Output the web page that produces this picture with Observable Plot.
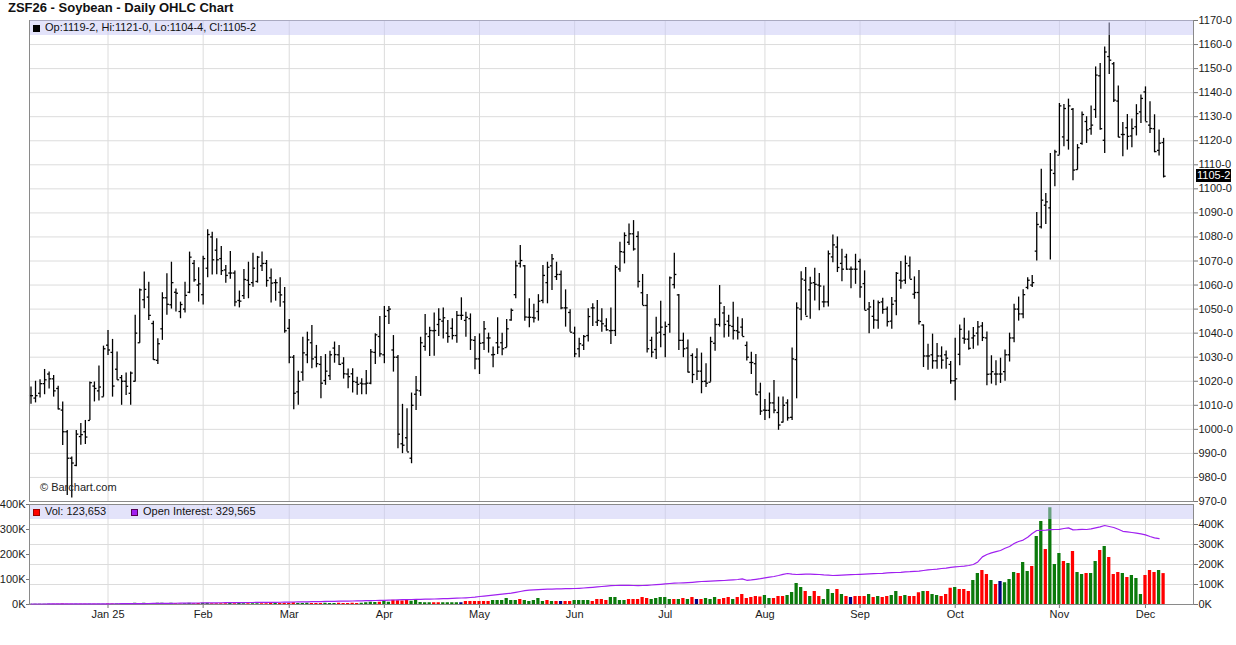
<!DOCTYPE html>
<html>
<head>
<meta charset="utf-8">
<script src="https://cdn.jsdelivr.net/npm/d3@7"></script>
<script src="https://cdn.jsdelivr.net/npm/@observablehq/plot@0.6"></script>
<style>
html,body{margin:0;padding:0;background:#fff;overflow:hidden}
#chart{position:relative;width:1236px;height:645px;font-family:"Liberation Sans",Arial,sans-serif;color:#111}
#chart svg{position:absolute;left:0;top:0;overflow:visible}
.t{position:absolute;white-space:nowrap;font-size:11px;line-height:15px}
.band{position:absolute;left:30px;width:1163px;height:15px;background:rgba(200,200,245,0.5)}
.sq{display:inline-block;width:7px;height:7px;margin-right:5px;vertical-align:-0.5px;box-sizing:border-box}
</style>
</head>
<body>
<div id="chart"></div>
<script>
// ---------- DATA ----------
const symbol = "ZSF26 - Soybean - Daily OHLC Chart";
const startDate = "2024-12-06", endDate = "2025-12-05";
const holidays = ["2024-12-25","2025-01-01","2025-01-20","2025-02-17","2025-04-18","2025-05-26","2025-06-19","2025-07-04","2025-09-01","2025-11-27"];
const monthLabels = ["Jan 25","Feb","Mar","Apr","May","Jun","Jul","Aug","Sep","Oct","Nov","Dec"];
const priceTicks = [970,980,990,1000,1010,1020,1030,1040,1050,1060,1070,1080,1090,1100,1110,1120,1130,1140,1150,1160,1170];
const volTicks = [0,100,200,300,400];   // thousands (left axis, volume)
const oiTicks = [0,100,200,300,400];    // thousands (right axis, open interest)

const opens = [1014,1013,1015,1019,1023,1021,1017,1008,999,988,
985,997,999,1003.7,1018,1016,1013.5,1035,1032,1025,
1021.5,1020,1015,1020,1036,1053.9,1055,1044,1028.7,1041.8,
1054.7,1051.8,1057,1049,1050,1057,1069,1060,1056,1067,
1080,1074.5,1071,1066.3,1065,1065,1053.6,1055.6,1062,1061,
1061.5,1068,1069,1063,1061,1057,1053,1042,1030,1015.6,
1023.8,1031,1036,1030,1027,1020.3,1022.3,1033.8,1031,1027.5,
1023,1023.1,1019.6,1019.2,1018.9,1019.2,1032,1038.6,1031,1049.4,
1033,1030,994,996.5,988,1014.6,1016,1034.5,1038.6,1041,
1043.6,1045,1040,1042,1039,1047.4,1045.3,1046,1037,1029.3,
1036,1038,1031,1036,1036,1034,1045.5,1056,1069,1068,
1046.6,1046.5,1049,1053.6,1061,1068,1063.5,1064.4,1050.5,1048.6,
1040,1033.5,1035,1039,1050.5,1044.6,1045,1043,1041,1041.1,
1066.7,1073.7,1077.8,1081.3,1080.2,1056.8,1051.5,1037,1033.2,1040.4,
1039.4,1043.6,1060.2,1055.9,1037,1033.8,1030.7,1030,1024.2,1020,
1019.6,1035.8,1043.6,1048.4,1045,1042.8,1041,1042.5,1034.9,1027.8,
1027.3,1015.5,1008,1007.9,1011,1007,1003,1011,1005,1029,
1050,1062,1058,1061,1060,1053,1053,1071.7,1075.8,1069,
1071.7,1066.6,1066.6,1069.8,1060.6,1050,1047,1045.4,1053,1050,
1045,1053.4,1062,1062,1068,1056.2,1056.9,1043.4,1030.5,1031,
1028.5,1030.5,1031,1027,1020.2,1031.2,1037.9,1037.5,1038,1040,
1043,1038,1023,1023,1023,1024,1031,1038,1050,1048,
1059,1060,1074.1,1084.2,1093.2,1092.1,1106.4,1114,1121.6,1120.2,
1133.1,1108,1118.9,1128,1125,1133,1147,1120.2,1155,1152,
1136.5,1122.6,1125.4,1122,1125.8,1132,1140.3,1126.5,1125,1116,
1119.25];
const highs = [1017.6,1020,1020.6,1024.9,1023.8,1022.4,1017.9,1011.4,999.5,988.5,
999.5,1002.4,1003.7,1019.7,1019.7,1026.3,1034.6,1041.1,1037.4,1032.2,
1022.4,1023.4,1023.8,1047.4,1058.4,1065.4,1061.2,1045,1037.7,1056.8,
1064.7,1069.5,1058.4,1052.9,1061.2,1073.7,1070.2,1067.2,1072,1083,
1082,1079.2,1076,1068.1,1073.9,1065.8,1057.5,1066.5,1069.5,1073.2,
1071.9,1073.7,1070.2,1066.7,1062.2,1063,1059,1045.7,1030.7,1024.2,
1038.3,1040.4,1043.2,1034.9,1030.3,1031.1,1032.5,1036.3,1034.9,1029.8,
1025.1,1025.2,1021.7,1021,1024.5,1033.2,1039.7,1046.9,1051.1,1051.1,
1039,1030.7,1010.4,1008.6,1015.1,1022,1038.3,1047.8,1042.5,1048.4,
1050.1,1050.5,1045.3,1046,1049,1054.7,1048.7,1048,1038.6,1039.7,
1044.8,1040,1034.2,1046.4,1040,1045.7,1050,1070,1076.4,1068.1,
1054.3,1052,1056,1068.1,1069.5,1072.7,1069.5,1065.8,1058,1049.7,
1042.5,1037.9,1039,1050.1,1052.2,1053.6,1050.1,1046,1050.5,1068.1,
1077.8,1081.7,1085.4,1086.8,1082.2,1064.4,1056.1,1038.3,1046.6,1053.3,
1044.6,1063.3,1073.2,1056.1,1040,1037.2,1031.4,1033.5,1031.7,1027.3,
1038.3,1046,1059.8,1051.1,1047.4,1052.9,1046.6,1046,1036.3,1032.1,
1031.1,1019.2,1012.4,1015.1,1020.3,1013.4,1013.4,1012.3,1033.8,1052.6,
1065.5,1067.3,1063.2,1067,1064.8,1059.6,1074.2,1080.8,1080,1074.9,
1072.8,1067.5,1072.8,1070.7,1065.9,1052.7,1053.7,1053.4,1054.5,1050.9,
1054.8,1065.2,1069.8,1072.1,1071.7,1063.4,1066.1,1043.4,1035.4,1039.6,
1035.7,1034.3,1032.6,1028.2,1037.9,1043.4,1046.2,1040.9,1042.3,1044.8,
1044.4,1040.5,1030.6,1028.5,1029.6,1033,1040,1052,1055,1058,
1063,1064,1090.2,1108.2,1098.1,1114.7,1116.1,1135.5,1135.1,1137.3,
1133.4,1118.4,1132,1130,1134.5,1150.7,1152.1,1159,1169,1152.5,
1142.8,1127.6,1130.9,1129,1135,1139,1142.4,1136.2,1130.8,1124.5,
1121];
const lows = [1010.4,1011,1013,1014.4,1016.8,1013.4,1008,993.3,972.5,971.5,
984.5,993.4,993.7,1003.7,1011.4,1011.8,1013.4,1030.7,1013.4,1020.4,
1010,1014.1,1010,1019.7,1035.8,1050.1,1045.3,1028.7,1027,1037,
1047.4,1050,1048.8,1046,1048.4,1056.4,1061.2,1052.9,1051.7,1063,
1064.2,1064.3,1064,1060.8,1062.4,1051,1050.5,1054,1054.3,1059.1,
1060.8,1065.6,1059.1,1052.5,1053.3,1050.8,1040,1027.3,1008.1,1010,
1020,1027.3,1025.2,1025.6,1012.7,1018.3,1020.3,1027.5,1026.6,1020.9,
1016.9,1015.1,1014.2,1014.4,1014.4,1018.5,1027,1030,1027.3,1043.6,
1023.8,991.9,989.9,990.6,985.7,1007.8,1013.7,1032.5,1030.3,1030.4,
1038.6,1037.6,1035.8,1037.2,1035.8,1045.3,1038.3,1032.8,1024.8,1022.8,
1032.8,1031.7,1025.6,1031.1,1030.6,1033.9,1045,1054.3,1067.1,1045,
1042.2,1044.2,1045,1052.2,1052.2,1057.7,1061.9,1049.7,1042.5,1040.4,
1029.8,1029.8,1032.8,1036.3,1042.8,1042.8,1040.4,1040.8,1035.3,1038.6,
1065.3,1068.8,1076.4,1074.1,1058.8,1051.5,1031.7,1029.8,1029,1033.9,
1029.8,1040,1058.4,1032.8,1029.8,1023.4,1019,1020.3,1014.8,1017.4,
1019.6,1032.5,1042.5,1038,1038.3,1037.2,1037.2,1038.6,1028.4,1022.8,
1014.2,1005.8,1003.7,1004.4,1006.5,999.6,1002.6,1003.4,1003.7,1012.7,
1045.2,1047.2,1045.8,1053.4,1049.3,1050.6,1050.9,1069.3,1065.2,1061.4,
1066.1,1058.5,1060.3,1054.5,1049.5,1039.8,1041.6,1041.6,1047.9,1042.6,
1041.6,1047.2,1058.3,1060.3,1062.4,1054.1,1043.4,1025.7,1024.6,1025,
1025,1025,1025,1018.8,1011.9,1026.4,1035.4,1032.9,1033.3,1034.7,
1036.5,1018.1,1018.8,1018.1,1019.1,1020,1028,1036,1045,1046,
1058,1059,1070,1083.3,1085.2,1070.4,1100.9,1114,1117.5,1116.1,
1103.4,1107.8,1118.1,1118.9,1122.3,1129.3,1124.4,1114.7,1147.5,1135.9,
1121.2,1113.3,1116.1,1117.1,1122,1127.2,1127.9,1123,1115,1113.7,
1104.5];
const closes = [1014,1014,1019,1020.6,1021,1016,1008.5,999,988,986,
998,997.8,996.8,1019.4,1017,1017.6,1033.5,1033,1018,1020.6,
1020,1017.9,1023.4,1040,1058,1058.2,1047.4,1029,1035.6,1054.7,
1052,1061,1056.6,1051.9,1055.7,1071.6,1062.2,1060.5,1071,1081,
1070.5,1070.5,1066,1064,1065,1053,1053.3,1062.3,1060.2,1067,
1071.6,1069,1061.9,1060.8,1061,1055.9,1041,1030,1015,1020,
1031.8,1037.2,1029.3,1027.3,1019.2,1024.2,1031,1031.1,1027,1023.1,
1021.9,1019.9,1018.7,1018.9,1019.2,1032.2,1039.3,1031.4,1047,1050,
1030,998,993.4,990.6,1010,1016.3,1036,1039.7,1041.1,1041.1,
1045.7,1046.4,1038.6,1039,1047.4,1047.4,1046.6,1037.2,1029.3,1035.8,
1041.8,1038,1031.1,1034.2,1033.5,1041.8,1049.5,1068,1070.2,1046.7,
1046.6,1046.3,1053.3,1064,1067.4,1070.9,1064.4,1050.5,1050.5,1040.4,
1031.4,1035.6,1038.6,1046.9,1050.5,1045.3,1043.9,1041.4,1041.1,1067.4,
1073.9,1080.6,1081.3,1075,1061.5,1051.5,1033.5,1032.1,1040,1042.5,
1042.8,1063,1064.4,1037,1033.5,1023.8,1022.8,1024.2,1019.9,1019.2,
1036.5,1043.6,1052.5,1043.6,1043.2,1041.1,1040.4,1038.6,1030,1027.8,
1014.4,1007.6,1007.9,1011,1008,1001.8,1010,1004.8,1029.3,1050.5,
1062.5,1047,1060.8,1060.3,1059.6,1053,1073,1076.7,1067.3,1066.6,
1066.6,1066.6,1066.6,1059.2,1049.5,1050.9,1045.5,1052.7,1049.9,1044.8,
1052,1064.9,1061.7,1069,1062.4,1056.9,1044.8,1030.5,1030.5,1028.5,
1030.5,1028.8,1029.6,1020.2,1021,1041.6,1037.5,1033.7,1038.9,1042.6,
1038.2,1022.9,1024,1023,1023,1031,1038,1050,1048,1056,
1062,1061,1085.2,1095.3,1094.6,1107.8,1115.4,1134.5,1133.4,1134.5,
1107.8,1117.1,1130.9,1124.5,1126.5,1147.3,1125,1156.9,1153.5,1136.9,
1121.5,1122.6,1121.8,1125.1,1131.3,1137.6,1127.9,1125.1,1115.5,1119,
1105.25];
// volume, thousands of contracts
const volumeK = [1,1,1,1,1,1,1,2,1,1,1,1,1,1,1,1,1,
2,2,2,2,2,3,5,4,5,4,3,5,5,4,5,3,2,3,5,3,4,
5,5,3,3,3,3,5,3,5,3,3,3,3,3,3,4,4,4,4,
4,7,4,4,5,4,4,4,5,4,4,5,4,4,5,4,5,7,9,8,9,
12,9,17,15,14,16,
13,16,8,7,7,7,7,7,7,7,7,7,12,12,12,12,12,12,16,16,
16,24,16,16,20,16,12,16,24,12,16,12,12,12,12,12,16,16,16,16,
12,20,20,16,28,28,16,16,20,20,20,28,24,20,24,28,28,20,20,20,
24,20,28,20,20,24,20,28,20,24,28,20,28,40,24,28,32,30,36,24,
24,32,32,36,48,84,68,52,32,52,32,20,60,
44,60,40,32,28,32,32,32,40,28,32,28,32,36,52,32,36,32,32,47,
52,52,40,36,32,40,65,68,60,60,52,96,124,136,120,96,80,92,87,100,
128,124,168,132,152,272,332,220,387,160,204,172,164,212,128,120,124,124,172,216,
232,188,120,128,124,108,116,104,40,116,136,128,136,123.653];
// u = up, d = down, n = unchanged (colour of the volume bar)
const volumeDir = ("uuuuuddddd"+"udduduuddu"+"dduuuudduu"+"dudduudduu"+"dddduduudu"+
"uddduddddu"+"uuddduuudd"+"ddduuuuduu"+"dddduuuuud"+"duuuundddd"+
"dduuuuuudu"+"uuuududndd"+"uuuudddduu"+"uuddddduuu"+"uudududndu"+
"uudddudddd"+"dduuddduuu"+"ududduuudu"+"dndddududd"+"uududddudu"+
"uddduddduu"+"ddudnuuudu"+"uduuduuudu"+"duuduududd"+"duduuudddu"+"d").split("");
// open interest, thousands of contracts
const openInterestK = [2.5,2.5,2.6,2.6,2.7,2.7,2.8,2.8,2.9,3.0,3.0,3.1,3.2,3.2,3.3,3.4,3.5,
3.6,3.7,3.8,3.9,4.0,4.2,4.4,4.6,4.8,5.0,5.2,5.4,5.6,5.8,6.0,6.2,6.5,6.8,7.0,7.3,7.6,
7.9,8.1,8.3,8.5,8.7,8.9,9.1,9.3,9.5,9.7,9.9,10.1,10.3,10.5,10.7,10.9,11.1,11.3,11.6,
12,12.4,12.8,13.2,13.6,14,14.4,14.8,15.2,15.6,16,16.4,16.8,17.2,17.6,18,18.5,19,19.5,20,20.5,
21,21.8,22.6,23.4,24,24.5,25,25.5,26,26.5,27,27.6,28.2,29,29.8,30.6,31.5,32.5,33.5,35,37,
40,42,44,46.5,49,51.5,54,57,61,65,69,72,73.5,74.5,75.5,76.5,77.2,77.8,78.4,79,79.5,
80,81,82.5,84,86,88,90,92,94,95,95.5,95.8,95.5,95,94.5,95,96,97.5,99,101,
103,105,106.5,107.5,108.5,109.5,111,113,115,116,117,118,119,120,121.5,123,125,128,121,123,126,129,
133,137,140,145,151,155,152,150,151,152,152,151,150,148,147,145,146,147,148,149,150,
151,152,153,154,155,156,158,159,160,161,163,164,166,167,170,173,175,177,180,182,186,
188,190,192,195,200,213,238,250,258,264,270,281,290,305,315,322,336,355,370,371,372,374,375,
376,380,383,373,374,376,375,378,383,388,395,390,385,376,366,363,360,357,353,
348,340,333,329.565,null];

// ---------- BUILD ----------
function tradingDays(start, end, hol) {
  const h = new Set(hol), out = [];
  const e = new Date(end + "T00:00:00Z");
  for (let d = new Date(start + "T00:00:00Z"); d <= e; d.setUTCDate(d.getUTCDate() + 1)) {
    const w = d.getUTCDay(), s = d.toISOString().slice(0, 10);
    if (w !== 0 && w !== 6 && !h.has(s)) out.push(new Date(d));
  }
  return out;
}
const dates = tradingDays(startDate, endDate, holidays);
const dirColor = {u: "#0b7a0b", d: "#ff0000", n: "#000080"};
const bars = opens.map((o, i) => ({
  i, date: dates[i], open: o, high: highs[i], low: lows[i], close: closes[i],
  vol: volumeK[i], oi: openInterestK[i], col: dirColor[volumeDir[i]] || "#0b7a0b"
}));
const monthStarts = [];
for (let i = 1; i < dates.length; i++) if (dates[i].getUTCMonth() !== dates[i - 1].getUTCMonth()) monthStarts.push(i);
const monthLabelOf = new Map(monthStarts.map((m, k) => [m, monthLabels[k]]));

const fmtPrice = v => { const w = Math.floor(v); return `${w}-${Math.round((v - w) * 8)}`; };
const W = 1236, xDomain = [-0.33, 256.6];
const FONT = "Liberation Sans, Arial, sans-serif";
const baseStyle = {fontFamily: FONT, fontSize: "11px", color: "#1a1a1a", background: "transparent", overflow: "visible"};
const grid = "#dcdcdc";

const pricePlot = Plot.plot({
  width: W, height: 502, marginLeft: 29, marginRight: 43, marginTop: 20, marginBottom: 1,
  style: baseStyle,
  x: {domain: xDomain, axis: null},
  y: {domain: [970, 1170], axis: null},
  marks: [
    Plot.ruleY(priceTicks, {stroke: grid}),
    Plot.ruleX(monthStarts, {stroke: grid}),
    Plot.ruleX(bars, {x: "i", y1: "low", y2: "high", stroke: "#000", strokeWidth: 1.3}),
    Plot.link(bars, {x1: d => d.i - 0.45, x2: "i", y1: "open", y2: "open", stroke: "#000", strokeWidth: 1.3}),
    Plot.link(bars, {x1: "i", x2: d => d.i + 0.45, y1: "close", y2: "close", stroke: "#000", strokeWidth: 1.3}),
    Plot.axisY({anchor: "right", ticks: priceTicks, tickFormat: v => `${v}-0`, tickSize: 4, tickPadding: 1, label: null, stroke: "#777"}),
    Plot.frame({stroke: "#8a8a8a"})
  ]
});

const common = {width: W, height: 645, marginLeft: 29, marginRight: 43, marginTop: 504, marginBottom: 41,
  style: baseStyle, x: {domain: xDomain, axis: null}};

const oiGridPlot = Plot.plot({
  ...common,
  y: {domain: [0, 500], axis: null},
  marks: [
    Plot.ruleY(oiTicks.slice(1), {stroke: grid}),
    Plot.ruleX(monthStarts, {stroke: grid}),
    Plot.axisY({anchor: "right", ticks: oiTicks, tickFormat: v => `${v}K`, tickSize: 4, tickPadding: 1, label: null, stroke: "#777"})
  ]
});

const volPlot = Plot.plot({
  ...common,
  y: {domain: [0, 400], axis: null},
  color: {type: "identity"},
  marks: [
    Plot.rect(bars, {x1: d => d.i - 0.36, x2: d => d.i + 0.36, y1: 0, y2: "vol", fill: "col"}),
    Plot.axisY({anchor: "left", ticks: volTicks, tickFormat: v => `${v}K`, tickSize: 3, tickPadding: 1, label: null, stroke: "#777"}),
    Plot.axisX({ticks: monthStarts, tickFormat: v => monthLabelOf.get(v), tickSize: 4, tickPadding: 2, label: null, stroke: "#777"}),
    Plot.frame({stroke: "#8a8a8a"})
  ]
});

const oiLinePlot = Plot.plot({
  ...common,
  y: {domain: [0, 500], axis: null},
  marks: [
    Plot.line(bars, {x: "i", y: "oi", stroke: "#a020f0", strokeWidth: 1.2})
  ]
});

const root = document.getElementById("chart");
for (const p of [pricePlot, oiGridPlot, volPlot, oiLinePlot]) root.appendChild(p);

const last = bars[bars.length - 1];
const lastOi = openInterestK.filter(v => v != null).slice(-1)[0];
const fmtInt = d3.format(",");
const yClose = pricePlot.scale("y").apply(last.close);

function add(html, css, cls = "t") {
  const d = document.createElement("div");
  d.className = cls; d.innerHTML = html; Object.assign(d.style, css); root.appendChild(d); return d;
}
add("", {top: "20px"}, "band");
add("", {top: "505px", height: "14px"}, "band");
add(symbol, {left: "8px", top: "0px", fontSize: "13px", fontWeight: "bold", color: "#111"});
add(`<span class="sq" style="background:#000"></span>Op:${fmtPrice(last.open)}, Hi:${fmtPrice(last.high)}, Lo:${fmtPrice(last.low)}, Cl:${fmtPrice(last.close)}`,
  {left: "33px", top: "20px", color: "#111"});
add(`<span class="sq" style="background:#ff0000;border:1px solid #900"></span>Vol: ${fmtInt(Math.round(last.vol * 1000))}`,
  {left: "33px", top: "504px", color: "#111"});
add(`<span class="sq" style="background:#a020f0;border:1px solid #505"></span>Open Interest: ${fmtInt(Math.round(lastOi * 1000))}`,
  {left: "131px", top: "504px", color: "#111"});
add("© Barchart.com", {left: "40px", top: "480px", color: "#222"});
add(fmtPrice(last.close), {left: "1196px", top: (yClose - 6.5) + "px", lineHeight: "13px", background: "#000",
  color: "#fff", padding: "0 1px"});
</script>
</body>
</html>
